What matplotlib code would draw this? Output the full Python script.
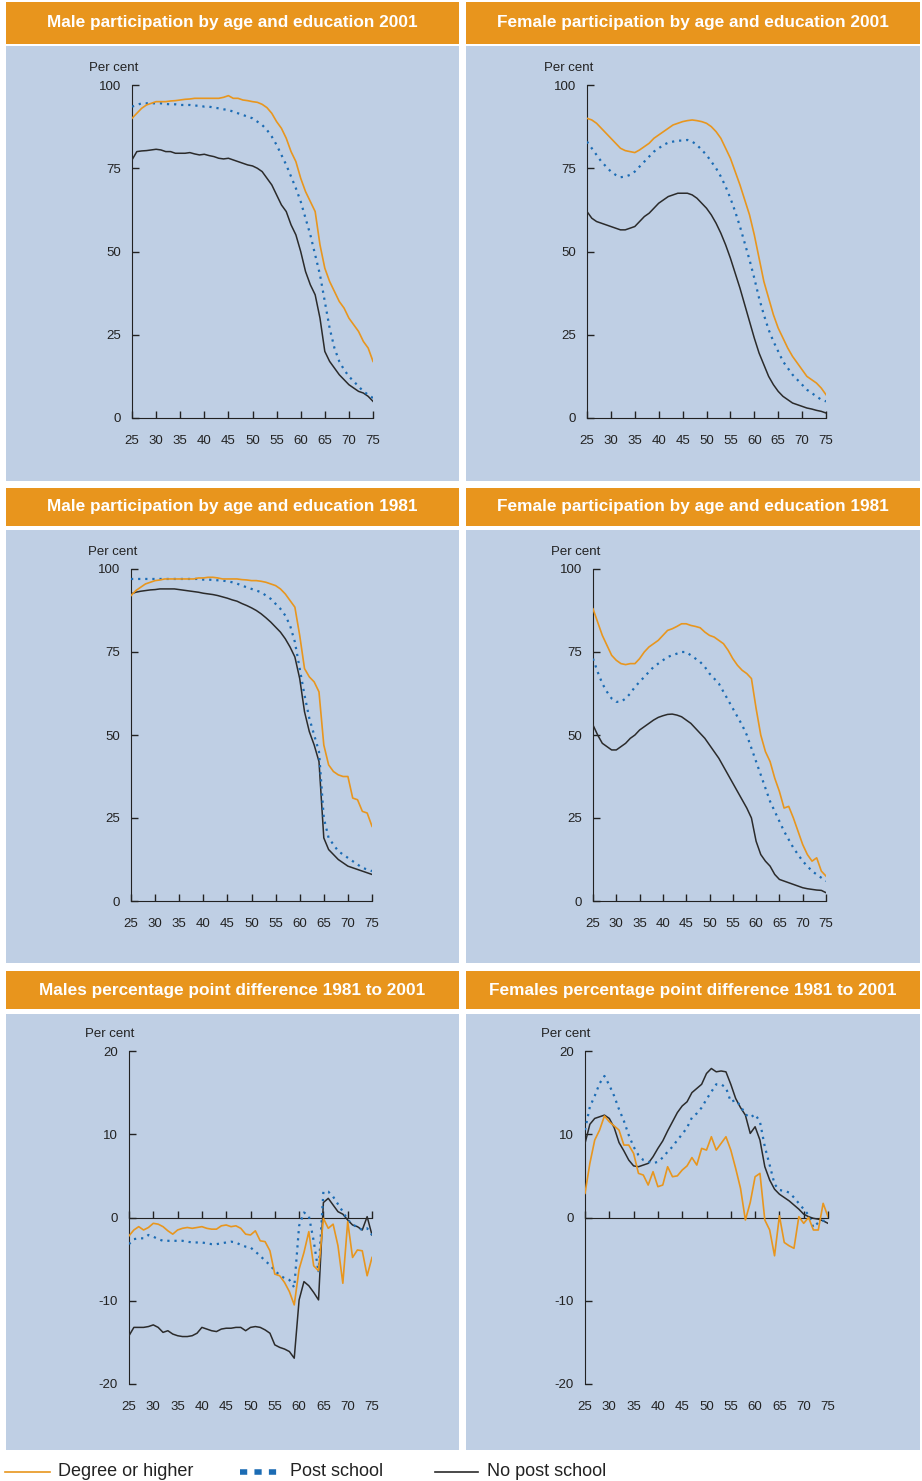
import matplotlib
matplotlib.use("Agg")
import matplotlib.pyplot as plt
from matplotlib.patches import Rectangle
from matplotlib.lines import Line2D

plt.rcParams['font.family'] = ['Liberation Sans', 'DejaVu Sans']
plt.rcParams['axes.unicode_minus'] = False

ages = list(range(25, 76))

# Male participation 2001
m01_degree = [90, 91.5, 93, 94, 94.5, 95, 95, 95, 95.2, 95.3, 95.5, 95.7, 95.8, 96, 96, 96, 96, 96, 96, 96.3,
              96.8, 96, 96, 95.5, 95.3, 95, 94.8, 94.2, 93.2, 91.5, 89, 87, 84, 80, 77, 72, 68, 65, 62, 52,
              45, 41, 38, 35, 33, 30, 28, 26, 23, 21, 17]
m01_post = [93.5, 94, 94.5, 94.5, 94.5, 94.5, 94.5, 94.3, 94.2, 94.2, 94, 94, 94, 93.8, 93.8, 93.5, 93.5, 93.2, 93, 92.7,
            92.5, 92, 91.5, 91, 90.5, 90, 89, 88, 86.5, 84.5, 82, 79, 76, 72.5, 69, 65, 60, 55, 49, 43,
            35, 27, 21, 17, 14.5, 12.5, 11, 9.5, 8, 7, 6]
m01_none = [77.5, 80, 80.2, 80.3, 80.5, 80.7, 80.5, 80, 80, 79.5, 79.5, 79.5, 79.7, 79.3, 79, 79.2, 78.8, 78.5, 78, 77.8,
            78, 77.5, 77, 76.5, 76, 75.7, 75, 74, 72, 70, 67, 64, 62, 58, 55, 50, 44, 40, 37, 30,
            20, 17, 15, 13, 11.5, 10, 9, 8, 7.5, 6.5, 5]

# Female participation 2001
f01_degree = [90, 89.5, 88.5, 87, 85.5, 84, 82.5, 81, 80.3, 80, 79.7, 80.5, 81.5, 82.5, 84, 85, 86, 87, 88, 88.5,
              89, 89.3, 89.5, 89.3, 89, 88.5, 87.5, 86, 84, 81, 78, 74, 70, 65.5, 61, 55, 48, 41, 36, 31,
              27, 24, 21, 18.5, 16.5, 14.5, 12.5, 11.5, 10.5, 9, 7]
f01_post = [83, 81, 79, 77, 75.5, 74, 73, 72.3, 72.5, 73, 74, 75.5, 77, 78.5, 80, 81, 82, 82.7, 83, 83.3,
            83.3, 83.5, 83, 82, 80.5, 79, 77, 75, 72.5, 69.5, 66, 62, 57.5, 52.5, 47.5, 42, 36, 31, 26.5, 23,
            20, 17, 15, 13, 11.5, 10, 8.5, 7.5, 6.5, 5.5, 5]
f01_none = [62, 60, 59, 58.5, 58, 57.5, 57, 56.5, 56.5, 57, 57.5, 59, 60.5, 61.5, 63, 64.5, 65.5, 66.5, 67, 67.5,
            67.5, 67.5, 67, 66, 64.5, 63, 61, 58.5, 55.5, 52, 48, 43.5, 39, 34, 29, 24, 19.5, 16, 12.5, 10,
            8, 6.5, 5.5, 4.5, 4, 3.5, 3, 2.7, 2.3, 2, 1.5]

# Male participation 1981
m81_degree = [92, 93.5, 94.5, 95.5, 96, 96.5, 96.7, 97, 97, 97, 97, 97, 97, 97, 97.3, 97.3, 97.5, 97.5, 97.3, 97,
              97, 97, 97, 96.8, 96.7, 96.5, 96.5, 96.3, 96, 95.5, 95, 94, 92.5, 90.5, 88.5, 80, 70, 67.5, 66, 63,
              47, 41, 39, 38, 37.5, 37.5, 31, 30.5, 27, 26.5, 22.5]
m81_post = [97, 97, 97, 97, 97, 97, 97, 97, 97, 97, 97, 97, 97, 97, 97, 96.8, 96.8, 96.7, 96.6, 96.5,
            96.3, 96, 95.6, 95, 94.5, 94, 93.5, 93, 92, 91, 89.5, 88, 86, 83, 78, 70, 62, 55, 50, 45,
            25, 19, 17, 15, 14, 13, 12, 11, 10, 9.5, 9]
m81_none = [92.5, 93, 93.3, 93.5, 93.7, 93.8, 94, 94, 94, 94, 93.8, 93.6, 93.4, 93.2, 93, 92.7, 92.5, 92.3, 92, 91.6,
            91.2, 90.7, 90.3, 89.6, 89, 88.3, 87.5, 86.5, 85.3, 84, 82.5, 81, 79, 76.5, 73.5, 67, 57, 51, 47, 42,
            19, 15.5, 14, 12.5, 11.5, 10.5, 10, 9.5, 9, 8.5, 8]

# Female participation 1981
f81_degree = [88, 84, 80, 77, 74, 72.5, 71.5, 71.2, 71.5, 71.5, 73, 75, 76.5, 77.5, 78.5, 80, 81.5, 82, 82.7, 83.5,
              83.5, 83, 82.7, 82.3, 81, 80, 79.5, 78.5, 77.5, 75.5, 73, 71, 69.5, 68.5, 67, 58, 50, 45, 42, 37,
              33, 28, 28.5, 25, 21, 17, 14, 12, 13, 9, 7.5]
f81_post = [73, 69, 65.5, 63, 61, 60, 60, 61, 62.5, 64.5, 66, 67.5, 69, 70.5, 71.5, 72.5, 73.5, 74, 74.5, 75,
            75, 74, 73, 72, 70.5, 68.5, 67, 65.5, 63, 60.5, 58, 55.5, 53, 50, 46, 42, 38, 34, 30, 27,
            24, 21, 18.5, 16, 14, 12, 10.5, 9, 8, 7, 6]
f81_none = [53, 50, 47.5, 46.5, 45.5, 45.5, 46.5, 47.5, 49, 50, 51.5, 52.5, 53.5, 54.5, 55.3, 55.8, 56.2, 56.3, 56, 55.5,
            54.5, 53.5, 52, 50.5, 49, 47, 45, 43, 40.5, 38, 35.5, 33, 30.5, 28, 25, 18, 14, 12, 10.5, 8,
            6.5, 6, 5.5, 5, 4.5, 4, 3.7, 3.5, 3.3, 3.2, 2.5]

# Percentage point difference 1981 to 2001, males
md_degree = [-2.2, -1.5, -1.1, -1.5, -1.2, -0.7, -0.8, -1.1, -1.6, -2.0, -1.5, -1.3, -1.2, -1.3, -1.2, -1.1, -1.3, -1.4, -1.4, -1.0,
             -0.9, -1.1, -1.0, -1.3, -2.0, -2.1, -1.6, -2.8, -2.9, -4.0, -6.8, -7.0, -7.8, -8.9, -10.5, -6.2, -4.2, -1.7, -5.8, -6.4,
             -0.1, -1.3, -0.8, -3.4, -7.9, -0.5, -4.8, -3.9, -4.0, -7.0, -4.8]
md_post = [-3.2, -2.6, -2.5, -2.5, -2.1, -2.3, -2.6, -2.8, -2.8, -2.8, -2.8, -2.8, -2.9, -3.0, -3.0, -3.0, -3.1, -3.2, -3.2, -3.1,
           -3.0, -2.9, -3.0, -3.3, -3.5, -3.6, -4.1, -4.6, -5.2, -5.7, -6.4, -6.9, -7.3, -7.5, -8.4, -1.0, 0.6, 0.2, -2.8, -6.6,
           3.1, 3.1, 2.5, 1.6, 0.7, -0.3, -0.8, -1.2, -1.5, -1.3, -2.1]
md_none = [-14.2, -13.2, -13.2, -13.2, -13.1, -12.9, -13.2, -13.8, -13.6, -14.0, -14.2, -14.3, -14.3, -14.2, -13.9, -13.2, -13.4, -13.6, -13.7, -13.4,
           -13.3, -13.3, -13.2, -13.2, -13.6, -13.2, -13.1, -13.2, -13.5, -13.9, -15.3, -15.6, -15.8, -16.1, -16.9, -9.9, -7.7, -8.2, -9.0, -9.9,
           1.8, 2.3, 1.5, 0.7, 0.4, -0.3, -0.9, -1.1, -1.5, 0.1, -2.1]

# Percentage point difference 1981 to 2001, females
fd_degree = [2.9, 6.5, 9.3, 10.5, 12.2, 11.5, 11.0, 10.5, 8.7, 8.7, 7.7, 5.3, 5.1, 3.9, 5.5, 3.7, 3.9, 6.1, 4.9, 5.0,
             5.7, 6.2, 7.2, 6.3, 8.3, 8.1, 9.7, 8.1, 8.9, 9.7, 8.1, 5.9, 3.5, -0.3, 1.8, 4.9, 5.3, -0.3, -1.5, -4.6,
             0.2, -3.0, -3.4, -3.7, 0.1, -0.7, 0.0, -1.5, -1.5, 1.7, 0.1]
fd_post = [10.5, 13.3, 14.6, 16.1, 17.0, 15.9, 14.6, 13.0, 11.6, 9.9, 8.5, 7.5, 6.9, 6.7, 6.5, 6.7, 7.2, 7.9, 8.5, 9.3,
           10.0, 10.8, 12.0, 12.5, 13.2, 14.2, 15.1, 16.0, 16.0, 15.6, 13.9, 14.1, 13.4, 12.4, 12.0, 12.4, 11.5, 8.5, 6.3, 4.0,
           3.3, 3.2, 3.0, 2.4, 1.7, 1.0, 0.3, -1.2, -0.6, -0.4, -0.3]
fd_none = [8.9, 11.2, 11.9, 12.1, 12.3, 11.9, 10.8, 9.0, 8.0, 6.9, 6.2, 6.1, 6.3, 6.5, 7.3, 8.3, 9.2, 10.4, 11.5, 12.6,
           13.4, 13.9, 15.0, 15.5, 16.0, 17.3, 17.9, 17.5, 17.6, 17.5, 16.0, 14.3, 13.2, 12.3, 10.1, 10.9, 9.3, 6.1, 4.5, 3.4,
           2.8, 2.4, 2.0, 1.5, 1.0, 0.4, 0.1, -0.1, -0.2, -0.4, -0.7]

x_ticks = [25, 30, 35, 40, 45, 50, 55, 60, 65, 70, 75]

titles = ["Male participation by age and education 2001", "Female participation by age and education 2001",
          "Male participation by age and education 1981", "Female participation by age and education 1981",
          "Males percentage point difference 1981 to 2001", "Females percentage point difference 1981 to 2001"]

ORANGE = '#E8961E'
BLUE = '#1C6CB4'
BLACK = '#2B2B2B'
BG = '#BFCFE4'

W, H = 922, 1481
fig = plt.figure(figsize=(W / 100, H / 100), dpi=100)
fig.patch.set_facecolor('white')

def fx(x):
    return x / W

def fy(y):
    return 1 - y / H

# panel boxes: (x0, x1), header (top, bottom), background (top, bottom)
cols = [(6, 459), (466, 920)]
rows = [((2, 44), (46, 481)), ((488, 526), (530, 963)), ((971, 1009), (1014, 1450))]

for r, (hdr, bgr) in enumerate(rows):
    for c, (x0, x1) in enumerate(cols):
        fig.add_artist(Rectangle((fx(x0), fy(hdr[1])), fx(x1 - x0), (hdr[1] - hdr[0]) / H,
                                 transform=fig.transFigure, facecolor='#E8951D', edgecolor='none', zorder=0))
        fig.add_artist(Rectangle((fx(x0), fy(bgr[1])), fx(x1 - x0), (bgr[1] - bgr[0]) / H,
                                 transform=fig.transFigure, facecolor=BG, edgecolor='none', zorder=0))
        fig.text(fx((x0 + x1) / 2), fy((hdr[0] + hdr[1]) / 2), titles[r * 2 + c], color='white',
                 fontsize=12.4, fontweight='bold', ha='center', va='center')

# axes extents in pixels: x0 (age 25), x1 (age 75), ytop, ybottom
axes_px = [(132, 373, 85, 418), (587, 826, 85, 418),
           (131, 372, 569, 901), (593, 826, 569, 901),
           (129, 372, 1051, 1384), (585, 828, 1051, 1384)]

series = [(m01_degree, m01_post, m01_none), (f01_degree, f01_post, f01_none),
          (m81_degree, m81_post, m81_none), (f81_degree, f81_post, f81_none),
          (md_degree, md_post, md_none), (fd_degree, fd_post, fd_none)]

for i, (x0, x1, yt, yb) in enumerate(axes_px):
    ax = fig.add_axes([fx(x0), fy(yb), fx(x1 - x0), (yb - yt) / H])
    ax.patch.set_alpha(0)
    deg, post, none = series[i]
    ax.plot(ages, none, color=BLACK, lw=1.1, zorder=3)
    ax.plot(ages, post, color=BLUE, lw=1.6, linestyle=(0, (1, 2.2)), zorder=4)
    ax.plot(ages, deg, color=ORANGE, lw=1.2, zorder=5)
    ax.set_xlim(25, 75)
    for s in ['top', 'right']:
        ax.spines[s].set_visible(False)
    ax.spines['left'].set_color('#222222')
    ax.spines['bottom'].set_color('#222222')
    ax.tick_params(direction='in', length=5, width=1, colors='#222222', labelsize=9.5)
    ax.tick_params(axis='y', pad=8)
    ax.set_xticks(x_ticks)
    if i < 4:
        ax.set_ylim(0, 100)
        ax.set_yticks([0, 25, 50, 75, 100])
        ax.tick_params(axis='x', pad=12)
    else:
        ax.set_ylim(-20, 20)
        ax.set_yticks([-20, -10, 0, 10, 20])
        ax.spines['bottom'].set_position(('data', 0))
        ax.set_xticklabels([])
        for t in x_ticks:
            ax.text(t, -0.07, str(t), transform=ax.get_xaxis_transform(), ha='center', va='center',
                    fontsize=9.5, color='#222222')
    ax.text(-0.18, 1.05, 'Per cent', transform=ax.transAxes, fontsize=9.5, color='#222222',
            ha='left', va='center')

# legend along the bottom
ly = fy(1472)
fig.add_artist(Line2D([fx(5), fx(50)], [ly, ly], color=ORANGE, lw=1.2, transform=fig.transFigure))
fig.text(fx(58), ly, 'Degree or higher', fontsize=13, va='center', color='#222222')
fig.add_artist(Line2D([fx(240), fx(280)], [ly, ly], color=BLUE, lw=4, linestyle=(0, (1.3, 1.3)),
                      transform=fig.transFigure))
fig.text(fx(290), ly, 'Post school', fontsize=13, va='center', color='#222222')
fig.add_artist(Line2D([fx(435), fx(478)], [ly, ly], color=BLACK, lw=1.2, transform=fig.transFigure))
fig.text(fx(487), ly, 'No post school', fontsize=13, va='center', color='#222222')

fig.savefig('out.png', dpi=100)
